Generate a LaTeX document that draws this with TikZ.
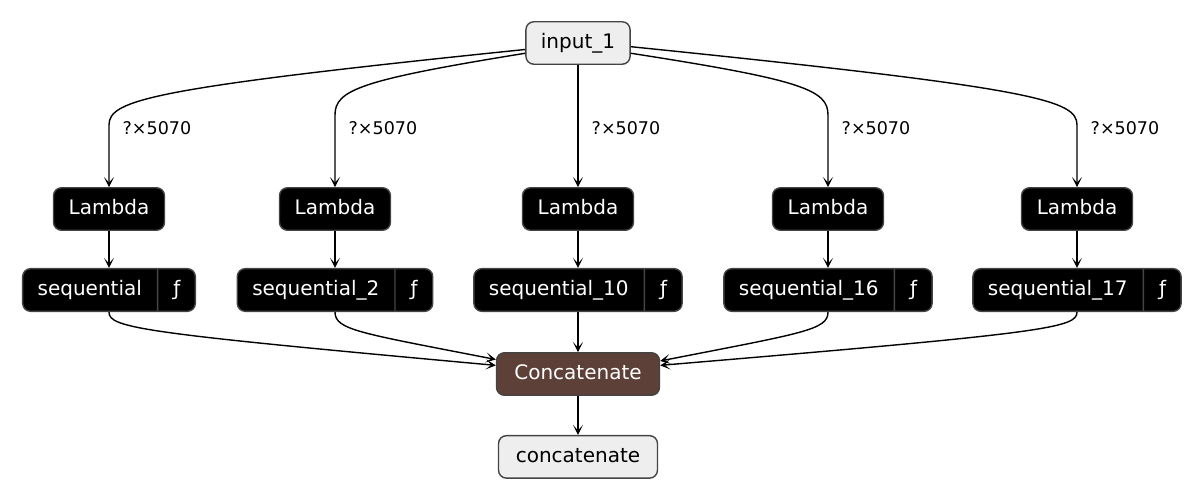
\documentclass[tikz,border=0pt]{standalone}
\usepackage{fontspec}
\setmainfont{DejaVu Sans}
\usepackage{tikz}
\usetikzlibrary{arrows.meta,calc,positioning,shapes.multipart}
\definecolor{ioFill}{HTML}{EEEEEE}
\definecolor{boxEdge}{HTML}{444444}
\definecolor{concatFill}{HTML}{5D4037}
\tikzset{
	layer graph/.style={
		x=1pt, y=1pt,
		every node/.style={font=\fontsize{20}{24}\selectfont},
		layer/.style={draw=boxEdge, line width=1.4pt, rounded corners=8pt,
			text height=15pt, text depth=4.5pt, inner ysep=11.5pt, inner xsep=15pt},
		io/.style={layer, fill=ioFill, text=black},
		lambda/.style={layer, fill=black, text=white, minimum width=111pt},
		seq/.style={layer, fill=black, text=white, rectangle split,
			rectangle split horizontal, rectangle split parts=2},
		merge/.style={layer, fill=concatFill, text=white, minimum width=163pt},
		shape label/.style={font=\fontsize{17.5}{20}\selectfont, anchor=west,
			inner sep=0pt, xshift=13pt},
		ar/.style={line width=1.4pt, -{Stealth[length=10pt,width=10pt,inset=5.5pt]}}
	}
}

\begin{document}
\begin{tikzpicture}[layer graph]
	\useasboundingbox (0,0) rectangle (1204,500);
	\node[io, minimum width=103pt] (in) at (578,457) {input\_1};
	\foreach \i/\x/\s in {1/109/sequential, 2/335/sequential\_2, 3/578/sequential\_10,
		4/828/sequential\_16, 5/1077/sequential\_17} {
		\node[lambda] (L\i) at (\x,291) {Lambda};
		\node[seq] (S\i) at (\x,210) {\s \nodepart{two} ƒ};
		\draw[ar] (L\i) -- (S\i);
	}
	\node[merge, below=40pt of S3] (C) {Concatenate};
	\node[io, minimum width=159pt, below=39pt of C] (out) {concatenate};
	% input to the lambdas
	\draw[ar] (in.187) .. controls (150,412) and (109,400) .. (L1.north |- 0,375)
		-- node[shape label, pos=.05] {?×5070} (L1.north);
	\draw[ar] (in.191) .. controls (360,420) and (335,410) .. (L2.north |- 0,385)
		-- node[shape label, pos=.18] {?×5070} (L2.north);
	\draw[ar] (in.south) -- node[shape label, pos=.52] {?×5070} (L3.north);
	\draw[ar] (in.349) .. controls (803,420) and (828,410) .. (L4.north |- 0,385)
		-- node[shape label, pos=.18] {?×5070} (L4.north);
	\draw[ar] (in.356) .. controls (1036,412) and (1077,400) .. (L5.north |- 0,375)
		-- node[shape label, pos=.05] {?×5070} (L5.north);
	% sequentials into the merge
	\draw[ar] (S1.south) .. controls (109,172) and (140,167) .. (C.174);
	\draw[ar] (S2.south) .. controls (335,170) and (360,167) .. (C.170);
	\draw[ar] (S3.south) -- (C.north);
	\draw[ar] (S4.south) .. controls (828,170) and (803,167) .. (C.9);
	\draw[ar] (S5.south) .. controls (1077,172) and (1046,167) .. (C.6);
	\draw[ar] (C.south) -- (out.north);
\end{tikzpicture}
\end{document}
